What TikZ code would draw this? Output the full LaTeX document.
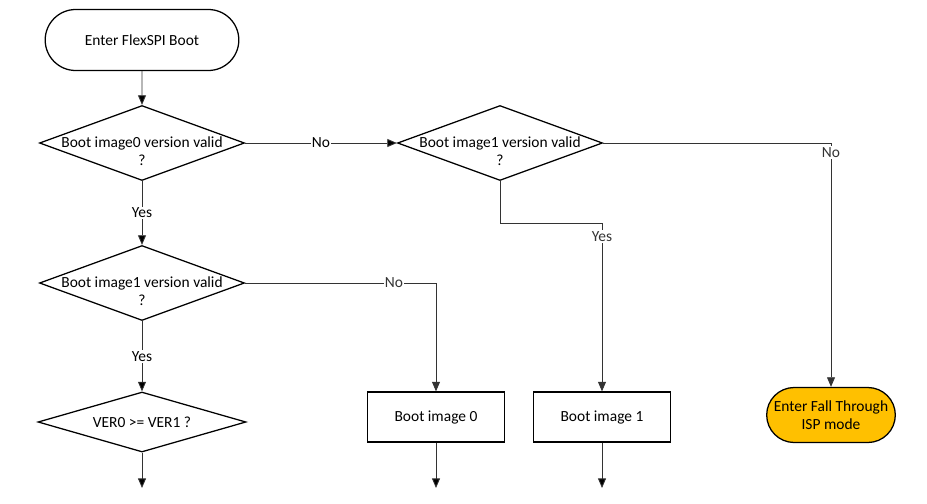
\documentclass[tikz,border=0pt]{standalone}
\usepackage{fontspec}
\setmainfont{Carlito}
\usepackage{xcolor}
\usetikzlibrary{arrows.meta}
\usetikzlibrary{positioning,shapes.geometric,shapes.misc}

\definecolor{ispyellow}{HTML}{FFC000}

\begin{document}
\begin{tikzpicture}[>={Triangle[length=2.4mm,width=2mm]}, every node/.style={font=\fontsize{11}{13}\selectfont}]
		\tikzstyle{terminal}=[draw, rounded rectangle, line width=0.9pt, minimum width=5.075cm, minimum height=1.525cm]
		\tikzstyle{decision}=[draw, diamond, line width=0.9pt, minimum width=5.125cm, minimum height=1.875cm, inner sep=0pt]
		\tikzstyle{question}=[align=center, yshift=-0.2cm]
		\tikzstyle{process}=[draw, rectangle, line width=0.9pt, minimum width=3.425cm, minimum height=1.25cm]
		\tikzstyle{lbl}=[fill=white, inner sep=1pt]
		
		\useasboundingbox (0,0) rectangle (23.175,-12.575);
		
		\node[terminal]  (start) at (3.55, -1.0)    {Enter FlexSPI Boot};
		\node[decision, label={[question]center:Boot image0 version valid\\?}] (d1) at (3.55, -3.575) {};
		\node[decision, label={[question]center:Boot image1 version valid\\?}] (d2) at (12.5, -3.575) {};
		\node[decision, label={[question]center:Boot image1 version valid\\?}] (d3) at (3.55, -7.075) {};
		\node[decision, minimum width=5.2cm, minimum height=1.5cm, label={center:VER0 >= VER1 ?}] (d4) at (3.55, -10.55) {};
		\node[process]   (b0)    at (10.9, -10.425) {Boot image 0};
		\node[process]   (b1)    at (15.05, -10.425) {Boot image 1};
		\node[terminal, fill=ispyellow, align=center, minimum width=3.45cm, minimum height=1.375cm] (isp) at (20.775, -10.375) {Enter Fall Through\\ISP mode};
		
		\coordinate (bend2) at (12.5, -5.575);
		\coordinate (e4)    at (3.55, -12.2);
		\coordinate (e0)    at (10.9, -12.2);
		\coordinate (e1)    at (15.05, -12.2);
		
		\path[->, draw=black!80, line width=0.6pt]
		(start) edge (d1)
		(d1) edge node [lbl] {No}  (d2)
		(d1) edge node [lbl] {Yes} (d3)
		(d3) edge node [lbl] {Yes} (d4)
		(d4) edge (e4)
		(b0) edge (e0)
		(b1) edge (e1)
		;
		\draw[->, black!80, line width=0.6pt] (d3.east) -| node [lbl, pos=0.39] {No} (b0);
		\draw[->, black!80, line width=0.6pt] (d2.east) -| node [lbl, pos=0.52] {No} (isp);
		\draw[->, black!80, line width=0.6pt] (d2.south) -- (bend2) -| node [lbl, pos=0.54] {Yes} (b1);
\end{tikzpicture}
\end{document}
